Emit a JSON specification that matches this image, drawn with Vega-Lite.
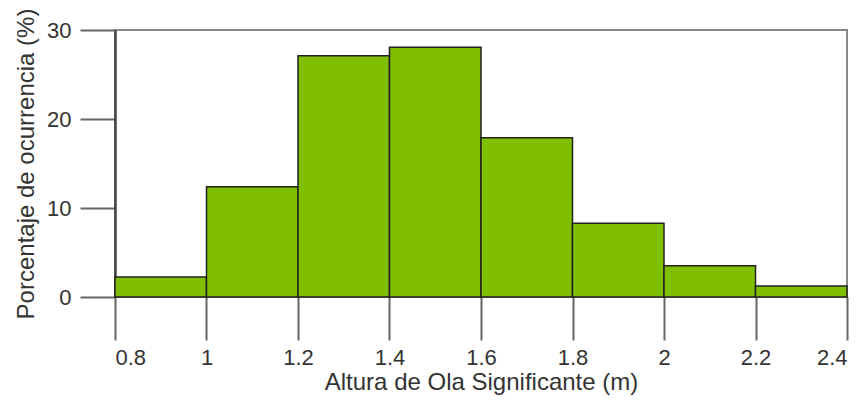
{
  "$schema": "https://vega.github.io/schema/vega-lite/v6.json",
  "autosize": "none",
  "width": 732,
  "height": 267,
  "padding": {"left": 115, "top": 30, "right": 18, "bottom": 105},
  "background": "white",
  "config": {
    "font": "Liberation Sans",
    "view": {"stroke": "#888", "strokeWidth": 2}
  },
  "data": {
    "values": [
      {"desde": 0.8, "hasta": 1.0, "porcentaje": 2.25},
      {"desde": 1.0, "hasta": 1.2, "porcentaje": 12.4},
      {"desde": 1.2, "hasta": 1.4, "porcentaje": 27.1},
      {"desde": 1.4, "hasta": 1.6, "porcentaje": 28.05},
      {"desde": 1.6, "hasta": 1.8, "porcentaje": 17.9},
      {"desde": 1.8, "hasta": 2.0, "porcentaje": 8.3},
      {"desde": 2.0, "hasta": 2.2, "porcentaje": 3.5},
      {"desde": 2.2, "hasta": 2.4, "porcentaje": 1.25}
    ]
  },
  "mark": {"type": "bar", "fill": "#80bf00", "stroke": "#222", "strokeWidth": 1.5},
  "encoding": {
    "x": {
      "field": "desde",
      "type": "quantitative",
      "scale": {"domain": [0.8, 2.4], "nice": false, "zero": false},
      "axis": {
        "title": "Altura de Ola Significante (m)",
        "values": [0.8, 1.0, 1.2, 1.4, 1.6, 1.8, 2.0, 2.2, 2.4],
        "format": "~g",
        "grid": false,
        "domain": false,
        "tickSize": 43,
        "tickColor": "#666",
        "tickWidth": 2,
        "labelPadding": 7,
        "labelFontSize": 22,
        "labelColor": "#333",
        "labelFontWeight": "normal",
        "titleFontSize": 24,
        "titleFontWeight": "normal",
        "titleColor": "#333",
        "titlePadding": 2
      }
    },
    "x2": {"field": "hasta"},
    "y": {
      "field": "porcentaje",
      "type": "quantitative",
      "scale": {"domain": [0, 30], "nice": false},
      "axis": {
        "title": "Porcentaje de ocurrencia (%)",
        "values": [0, 10, 20, 30],
        "grid": false,
        "domainColor": "#444",
        "domainWidth": 2.5,
        "tickSize": 35,
        "tickColor": "#666",
        "tickWidth": 2,
        "labelPadding": 9,
        "labelFontSize": 22,
        "labelColor": "#333",
        "labelFontWeight": "normal",
        "titleFontSize": 24,
        "titleFontWeight": "normal",
        "titleColor": "#333",
        "titlePadding": 8
      }
    },
    "y2": {"datum": 0}
  }
}
